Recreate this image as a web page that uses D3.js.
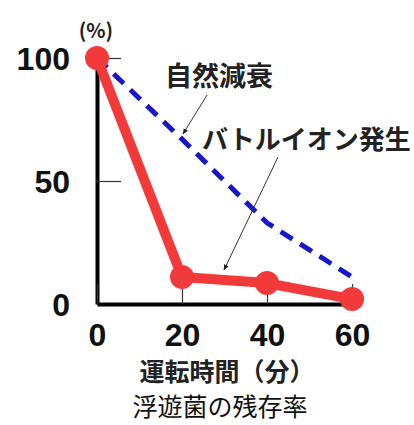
<html>
<head>
<meta charset="utf-8">
<style>
  body { margin: 0; background: #fff; }
  text { font-family: "Liberation Sans", Arial, "Noto Sans CJK JP", sans-serif; }
  .jp { font-family: "Noto Sans CJK JP", sans-serif; }
</style>
</head>
<body>
<svg></svg>
<script src="https://d3js.org/d3.v7.min.js"></script>
<script>
// data
var minutes = [0, 20, 40, 60];
var natural = [100, 67, 33, 11];      // 自然減衰 (blue dashed)
var battle = [100, 11, 8.5, 2];       // バトルイオン発生 (red)
var yTicks = [0, 50, 100];

var svg = d3.select("svg")
  .attr("width", 414)
  .attr("height", 425);

var x = d3.scaleLinear().domain([0, 60]).range([97, 352]);
var y = d3.scaleLinear().domain([0, 100]).range([304, 58]);

// y axis, ticks point inward
var yAxis = svg.append("g")
  .attr("transform", "translate(" + x(0) + ",0)")
  .call(d3.axisLeft(y).tickValues(yTicks).tickSizeInner(-24).tickSizeOuter(0).tickPadding(27));

// x axis, ticks point upward
var xAxis = svg.append("g")
  .attr("transform", "translate(0," + y(0) + ")")
  .call(d3.axisBottom(x).tickValues(minutes).tickSizeInner(-20).tickSizeOuter(0).tickPadding(19));

[yAxis, xAxis].forEach(function(a) {
  a.select(".domain").attr("stroke", "#000").attr("stroke-width", 4);
  a.selectAll(".tick line").attr("stroke", "#333").attr("stroke-width", 1.2);
  a.selectAll(".tick text")
    .attr("fill", "#111")
    .style("font-size", "32px")
    .style("font-weight", "bold");
});
yAxis.selectAll(".tick text").attr("dy", "0.36em");

var line = d3.line()
  .x(function(d, i) { return x(minutes[i]); })
  .y(function(d) { return y(d); });

// 自然減衰
svg.append("path")
  .datum(natural)
  .attr("d", line)
  .attr("fill", "none")
  .attr("stroke", "#1717c8")
  .attr("stroke-width", 5)
  .attr("stroke-dasharray", "14,9");

// バトルイオン発生
svg.append("path")
  .datum(battle)
  .attr("d", line)
  .attr("fill", "none")
  .attr("stroke", "#f23a3a")
  .attr("stroke-width", 10)
  .attr("stroke-linejoin", "round");

svg.selectAll("circle.pt")
  .data(battle).enter()
  .append("circle")
  .attr("class", "pt")
  .attr("cx", function(d, i) { return x(minutes[i]); })
  .attr("cy", function(d) { return y(d); })
  .attr("r", 12)
  .attr("fill", "#f23a3a");

// arrowhead for leader lines
svg.append("defs").append("marker")
  .attr("id", "arr")
  .attr("viewBox", "0 0 10 10")
  .attr("refX", 9).attr("refY", 5)
  .attr("markerWidth", 6).attr("markerHeight", 6)
  .attr("orient", "auto")
  .append("path").attr("d", "M0,1 L10,5 L0,9 Z").attr("fill", "#222");

svg.append("line")
  .attr("x1", 207).attr("y1", 95).attr("x2", 183).attr("y2", 134)
  .attr("stroke", "#333").attr("stroke-width", 1)
  .attr("marker-end", "url(#arr)");

svg.append("line")
  .attr("x1", 278).attr("y1", 157).attr("x2", 224).attr("y2", 270)
  .attr("stroke", "#333").attr("stroke-width", 1)
  .attr("marker-end", "url(#arr)");

// texts
svg.append("text").attr("class", "jp")
  .attr("x", 96).attr("y", 38)
  .attr("text-anchor", "middle")
  .style("font-size", "20px").style("font-weight", "bold")
  .attr("fill", "#222")
  .text("(%)");

svg.append("text").attr("class", "jp")
  .attr("x", 165).attr("y", 86)
  .style("font-size", "27px").style("font-weight", "bold")
  .attr("fill", "#222")
  .text("自然減衰");

svg.append("text").attr("class", "jp")
  .attr("x", 202).attr("y", 149)
  .style("font-size", "26px").style("font-weight", "bold")
  .attr("fill", "#222")
  .text("バトルイオン発生");

svg.append("text").attr("class", "jp")
  .attr("x", 227).attr("y", 381)
  .attr("text-anchor", "middle")
  .style("font-size", "25px").style("font-weight", "bold")
  .attr("fill", "#222")
  .text("運転時間（分）");

svg.append("text").attr("class", "jp")
  .attr("x", 220).attr("y", 416)
  .attr("text-anchor", "middle")
  .style("font-size", "25px")
  .attr("fill", "#111")
  .text("浮遊菌の残存率");
</script>
</body>
</html>
